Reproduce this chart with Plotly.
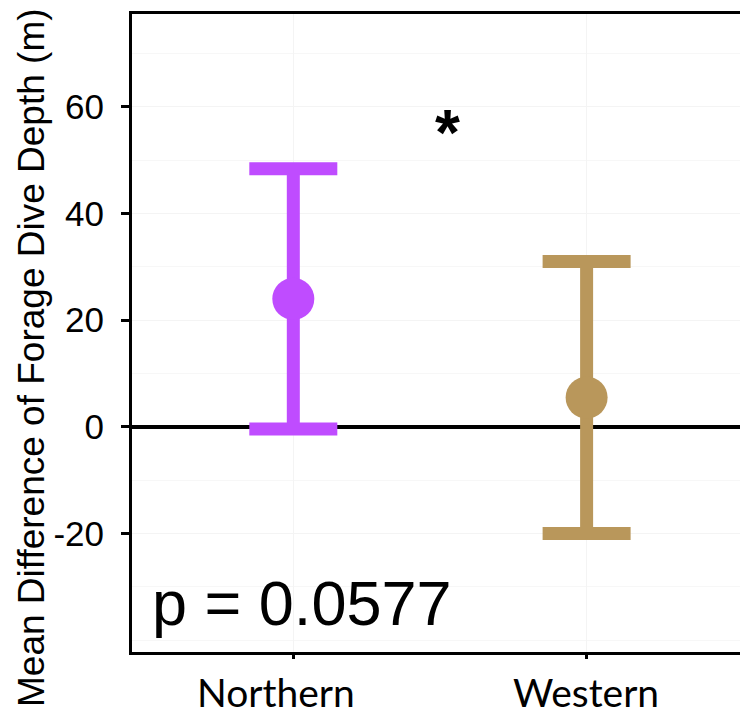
import plotly.graph_objects as go

categories = ["Northern", "Western"]
means = [24.0, 5.5]
ci_upper = [48.4, 31.0]
ci_lower = [-0.4, -20.0]
colors = ["#BF4CFF", "#B9975B"]
y_ticks = [-20, 0, 20, 40, 60]
y_tick_labels = ["-20", "0", "20", "40", "60"]
p_label = "p = 0.0577"
sig_label = "*"
y_title = "Mean Difference of Forage Dive Depth (m)"

xpos = list(range(len(categories)))
err_plus = [u - m for u, m in zip(ci_upper, means)]
err_minus = [m - l for m, l in zip(means, ci_lower)]

fig = go.Figure()
for i, cat in enumerate(categories):
    fig.add_trace(go.Scatter(
        x=[xpos[i]], y=[means[i]], mode="markers", name=cat,
        marker=dict(size=42, color=colors[i], line=dict(width=0)),
        error_y=dict(type="data", symmetric=False, array=[err_plus[i]],
                     arrayminus=[err_minus[i]], color=colors[i],
                     thickness=13, width=44),
        showlegend=False, hoverinfo="skip",
    ))

fig.update_layout(
    width=740, height=709,
    margin=dict(l=132, r=0, t=14, b=57),
    paper_bgcolor="white", plot_bgcolor="white",
    font=dict(family="Liberation Sans, Arial, sans-serif", color="black"),
    xaxis=dict(
        range=[-0.55, 1.523], tickvals=xpos, ticktext=categories,
        showticklabels=False,
        showline=True, linecolor="black", linewidth=3, mirror=True,
        ticks="outside", ticklen=4, tickwidth=3, tickcolor="black",
        showgrid=True, gridcolor="#f4f4f4", gridwidth=1, zeroline=False,
    ),
    yaxis=dict(
        range=[-42.2, 77.4], tickvals=y_ticks, ticktext=y_tick_labels,
        tickfont=dict(size=35, family="Liberation Sans, Arial, sans-serif"),
        showline=True, linecolor="black", linewidth=3, mirror=False,
        ticks="outside", ticklen=8, tickwidth=3, tickcolor="black",
        showgrid=True, gridcolor="#f4f4f4", gridwidth=1,
        minor=dict(dtick=10, tick0=0, showgrid=True, gridcolor="#f7f7f7", gridwidth=1, ticks=""),
        zeroline=True, zerolinecolor="black", zerolinewidth=4,
        ticklabelstandoff=10,
    ),
)

annotations = [
    dict(text=y_title, textangle=-90, xref="paper", yref="paper",
         x=-0.1645, y=0.4624, xanchor="center", yanchor="middle", showarrow=False,
         font=dict(size=37, family="Liberation Sans, Arial, sans-serif")),
    dict(text=p_label, xref="paper", yref="y", x=0.0296, y=-33.0,
         xanchor="left", yanchor="middle", showarrow=False,
         font=dict(size=63, family="Liberation Sans, Arial, sans-serif")),
    dict(text=sig_label, xref="x", yref="y", x=0.527, y=55.1,
         xanchor="center", yanchor="middle", showarrow=False,
         font=dict(size=64, family="Liberation Sans, Arial, sans-serif", weight="bold")),
]
label_shift = [-0.0607, -0.003]
for i, cat in enumerate(categories):
    annotations.append(dict(text=cat, xref="x", yref="paper", x=xpos[i] + label_shift[i],
                            y=-0.024, xanchor="center", yanchor="top", showarrow=False,
                            font=dict(size=39, family="Lato, Carlito, sans-serif")))
fig.update_layout(annotations=annotations)

fig.write_html("out.html", config={"displayModeBar": False},
               post_script="document.body.style.margin='0';document.body.style.overflow='hidden';")
